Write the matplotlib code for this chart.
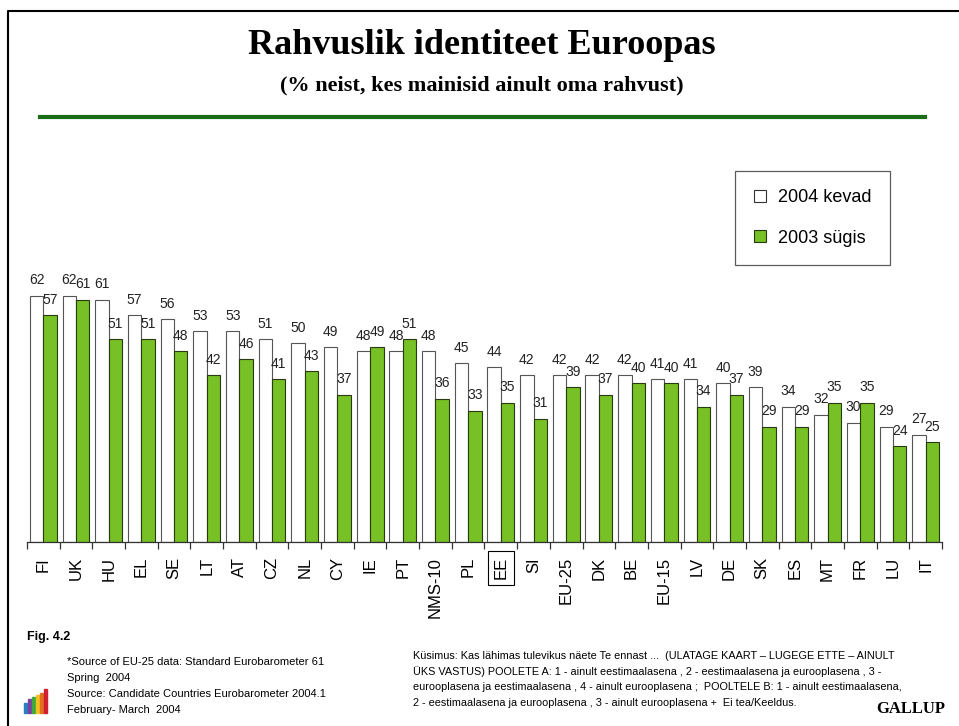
import numpy as np
import matplotlib
matplotlib.use("Agg")
import matplotlib.pyplot as plt
from matplotlib.lines import Line2D
from matplotlib.patches import Rectangle

plt.rcParams['font.family'] = ['Liberation Sans', 'DejaVu Sans']

countries = ['FI', 'UK', 'HU', 'EL', 'SE', 'LT', 'AT', 'CZ', 'NL', 'CY', 'IE', 'PT',
             'NMS-10', 'PL', 'EE', 'SI', 'EU-25', 'DK', 'BE', 'EU-15', 'LV', 'DE',
             'SK', 'ES', 'MT', 'FR', 'LU', 'IT']
spring2004 = [62, 62, 61, 57, 56, 53, 53, 51, 50, 49, 48, 48,
              48, 45, 44, 42, 42, 42, 42, 41, 41, 40,
              39, 34, 32, 30, 29, 27]
autumn2003 = [57, 61, 51, 51, 48, 42, 46, 41, 43, 37, 49, 51,
              36, 33, 35, 31, 39, 37, 40, 40, 34, 37,
              29, 29, 35, 35, 24, 25]

green = '#77c025'

fig = plt.figure(figsize=(9.59, 7.26), dpi=100)
W, H = 959.0, 726.0

# chart area
ax = fig.add_axes([27 / W, 1 - 541.7 / H, 915 / W, 277.9 / H])
x = np.arange(len(countries))
w = 0.41
b1 = ax.bar(x + 0.5 - w / 2, spring2004, w, color='white', edgecolor='#555555', linewidth=0.8)
b2 = ax.bar(x + 0.5 + w / 2, autumn2003, w, color=green, edgecolor='#2a3a10', linewidth=0.8)
ax.bar_label(b1, padding=6, fontsize=10, color='#222222')
ax.bar_label(b2, padding=6, fontsize=10, color='#222222')

ax.set_xlim(0, len(countries))
ax.set_ylim(0, 70)
ax.set_yticks([])
for s in ['left', 'right', 'top']:
    ax.spines[s].set_visible(False)
ax.spines['bottom'].set_color('#333333')
ax.spines['bottom'].set_linewidth(0.9)
ax.set_xticks(x + 0.5)
ax.set_xticklabels(countries, rotation=90, fontsize=12)
ax.tick_params(axis='x', which='major', length=0, pad=11)
ax.set_xticks(np.arange(len(countries) + 1), minor=True)
ax.tick_params(axis='x', which='minor', length=5, color='#333333', width=0.9)
for lbl in ax.get_xticklabels():
    if lbl.get_text() == 'EE':
        lbl.set_bbox(dict(boxstyle='square,pad=0.35', fc='none', ec='black', lw=0.8))

# legend
handles = [Line2D([], [], marker='s', ls='none', markersize=8, markerfacecolor='white',
                  markeredgecolor='#333333', markeredgewidth=0.8),
           Line2D([], [], marker='s', ls='none', markersize=8, markerfacecolor=green,
                  markeredgecolor='#2a3a10', markeredgewidth=0.8)]
leg = fig.legend(handles, ['2004 kevad', '2003 sügis'], loc='upper left',
                 bbox_to_anchor=(735 / W, 1 - 171 / H), fontsize=13, frameon=True,
                 fancybox=False, edgecolor='#333333', borderpad=1.0, labelspacing=1.3,
                 handlelength=0.8, handletextpad=0.6, borderaxespad=0)
leg.get_frame().set_linewidth(0.9)
leg.get_frame().set_boxstyle('square', pad=0.0)

# titles
fig.text(482 / W, 1 - 46 / H, 'Rahvuslik identiteet Euroopas', ha='center', va='center',
         fontsize=26, fontweight='bold', family='Liberation Serif')
fig.text(482 / W, 1 - 85 / H, '(% neist, kes mainisid ainult oma rahvust)', ha='center',
         va='center', fontsize=16, fontweight='bold', family='Liberation Serif')
fig.add_artist(Line2D([40 / W, 925 / W], [1 - 117 / H, 1 - 117 / H], color='#1a6e1a', lw=3))

# page border
fig.add_artist(Line2D([8 / W, 8 / W, 1.0], [0.0, 1 - 11 / H, 1 - 11 / H], color='black', lw=1.5))

# footer
fig.text(27 / W, 1 - 637 / H, 'Fig. 4.2', fontsize=9, fontweight='bold', va='center')
src = ['*Source of EU-25 data: Standard Eurobarometer 61', 'Spring  2004',
       'Source: Candidate Countries Eurobarometer 2004.1', 'February- March  2004']
for i, t in enumerate(src):
    fig.text(67 / W, 1 - (662 + 16 * i) / H, t, fontsize=8, va='center')
q = ['Küsimus: Kas lähimas tulevikus näete Te ennast ...  (ULATAGE KAART – LUGEGE ETTE – AINULT',
     'ÜKS VASTUS) POOLETE A: 1 - ainult eestimaalasena , 2 - eestimaalasena ja eurooplasena , 3 -',
     'eurooplasena ja eestimaalasena , 4 - ainult eurooplasena ;  POOLTELE B: 1 - ainult eestimaalasena,',
     '2 - eestimaalasena ja eurooplasena , 3 - ainult eurooplasena +  Ei tea/Keeldus.']
for i, t in enumerate(q):
    fig.text(413 / W, 1 - (656 + 15.5 * i) / H, t, fontsize=7.8, va='center')
fig.text(945 / W, 1 - 709 / H, 'GALLUP', fontsize=12, fontweight='bold',
         family='Liberation Serif', ha='right', va='center')

# small logo
logo_cols = ['#2a7fc0', '#7b3fa0', '#3aaa3a', '#f0c020', '#e07020', '#d02030']
logo_h = [10, 14, 16, 18, 20, 24]
for i, (c, h) in enumerate(zip(logo_cols, logo_h)):
    fig.add_artist(Rectangle(((24 + i * 4) / W, 1 - 713 / H), 3 / W, h / H, color=c))

fig.savefig('out.png', dpi=100)
